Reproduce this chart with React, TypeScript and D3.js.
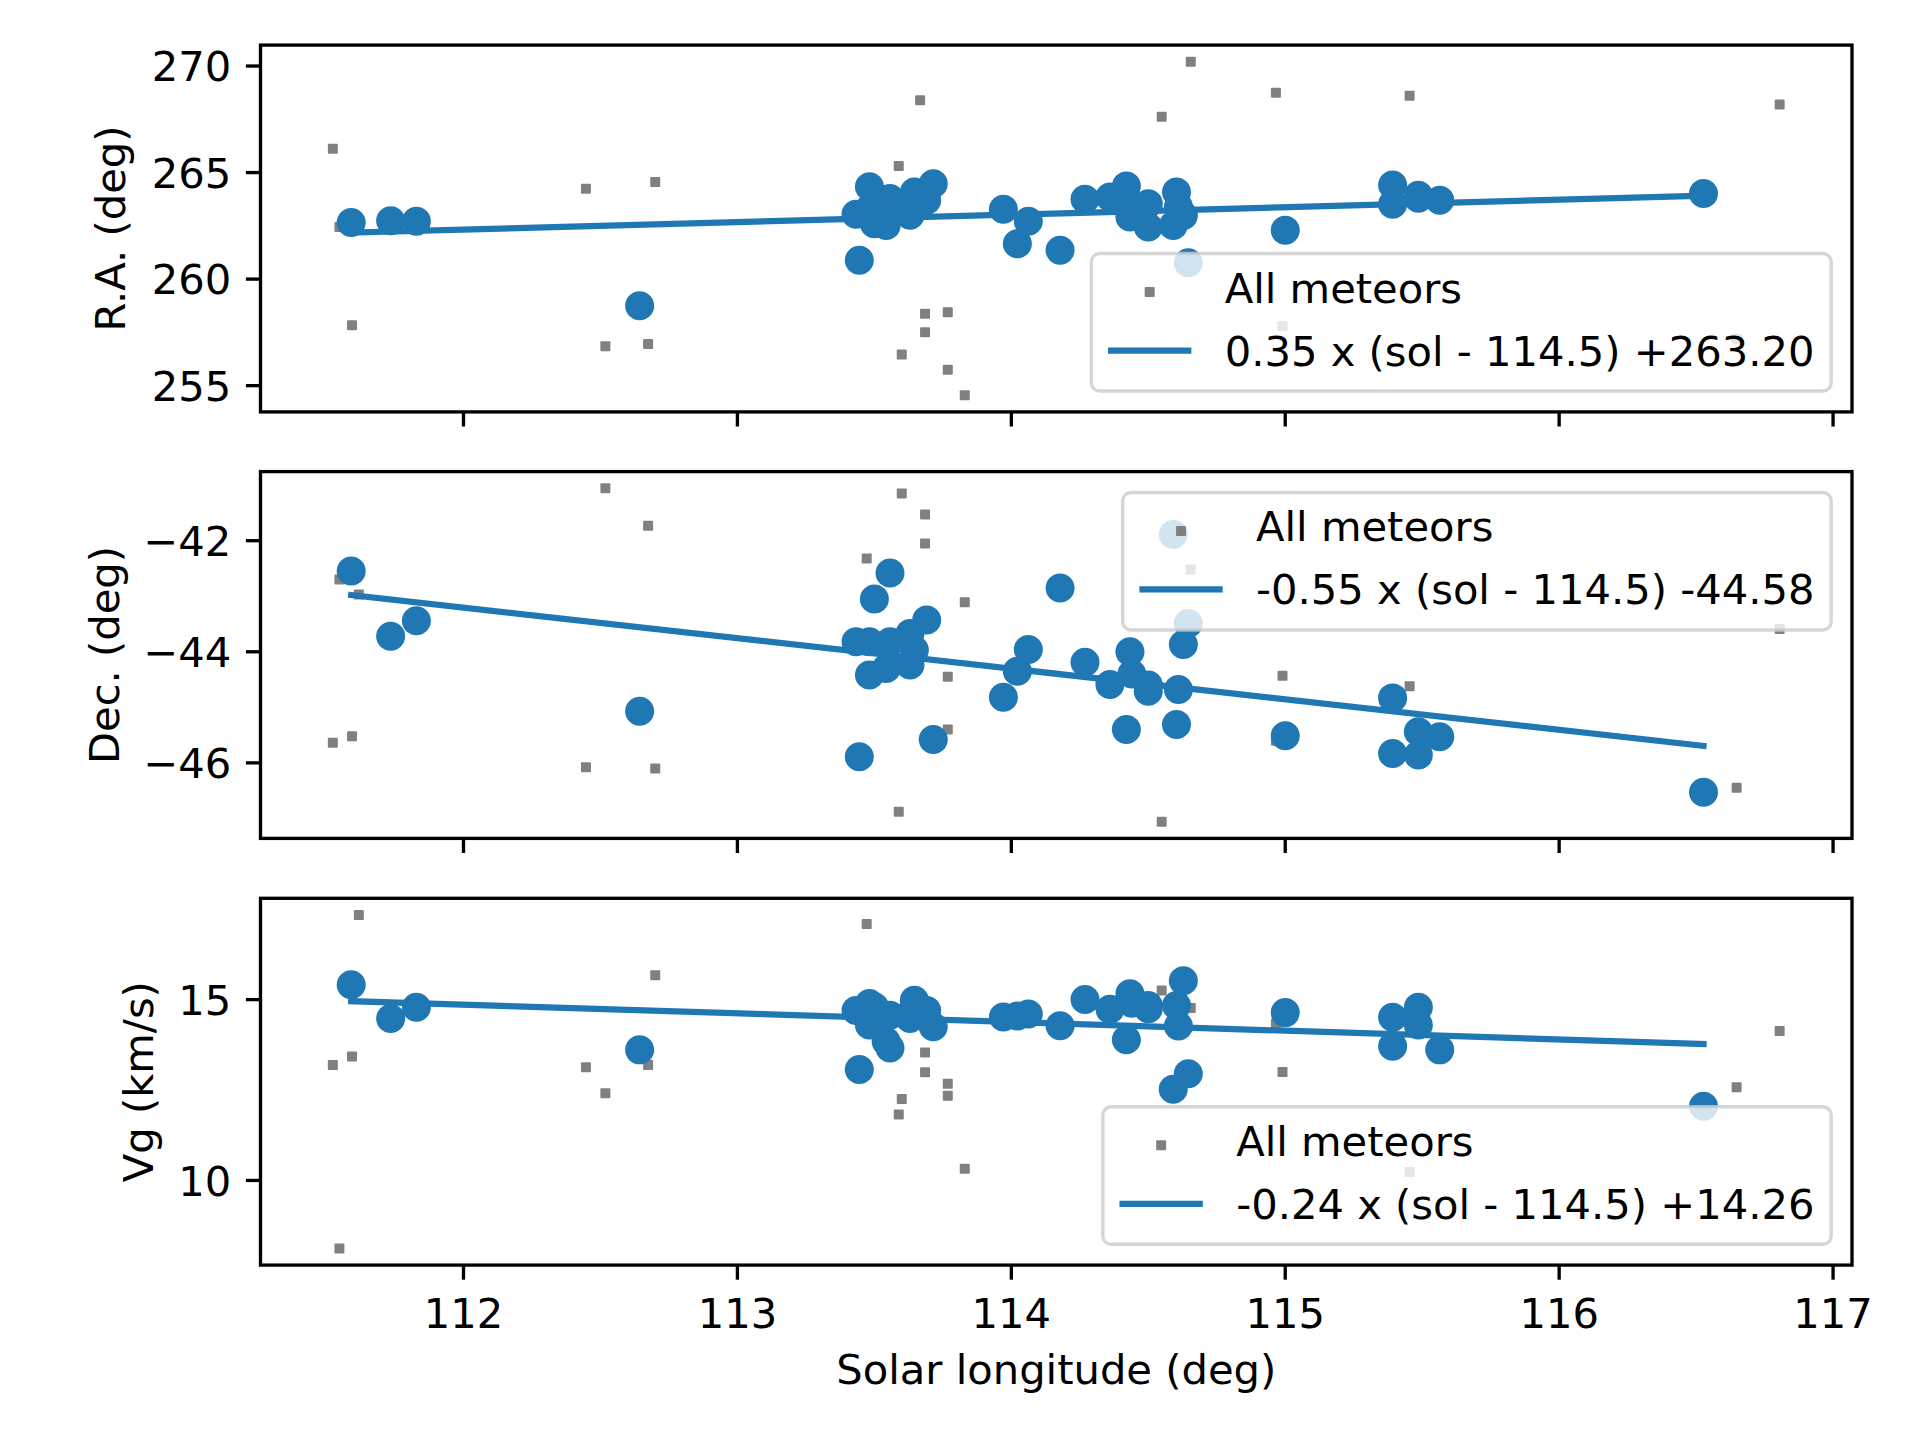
import React, { useMemo } from 'react';
import * as d3 from 'd3';

// ---------------- DATA ----------------
// Shower members (blue circles)
const memberSol = [
  111.59, 111.734, 111.828, 112.643, 113.433, 113.445, 113.482, 113.482, 113.5, 113.543,
  113.557, 113.557, 113.63, 113.63, 113.646, 113.691, 113.715, 113.971, 114.022, 114.062,
  114.178, 114.269, 114.36, 114.42, 114.433, 114.44, 114.5, 114.5, 114.591, 114.603,
  114.61, 114.628, 114.646, 115.0, 115.392, 115.392, 115.486, 115.486, 115.564, 116.527,
];
const memberRA = [
  262.66, 262.74, 262.71, 258.75, 263.04, 260.88, 264.33, 263.3, 262.6, 262.52,
  263.78, 263.3, 263.0, 263.4, 264.09, 263.7, 264.48, 263.28, 261.66, 262.71,
  261.35, 263.75, 263.85, 264.37, 262.92, 263.3, 263.54, 262.45, 262.52, 264.09,
  263.4, 262.99, 260.77, 262.29, 264.42, 263.51, 263.94, 263.8, 263.7, 264.02,
];
const memberDec = [
  -42.545, -43.72, -43.44, -45.07, -43.82, -45.89, -43.82, -44.42, -43.05, -44.3,
  -42.58, -43.82, -44.24, -43.67, -43.97, -43.43, -45.58, -44.82, -44.35, -43.96,
  -42.85, -44.19, -44.59, -45.4, -44.0, -44.4, -44.71, -44.6, -41.89, -45.31,
  -44.68, -43.87, -43.49, -45.51, -44.83, -45.83, -45.44, -45.86, -45.53, -46.53,
];
const memberVg = [
  15.41, 14.48, 14.79, 13.61, 14.7, 13.07, 14.89, 14.3, 14.8, 13.84,
  14.57, 13.66, 14.48, 14.6, 14.98, 14.7, 14.25, 14.52, 14.55, 14.6,
  14.28, 15.0, 14.73, 13.89, 15.16, 14.9, 14.84, 14.75, 12.52, 14.84,
  14.27, 15.52, 12.95, 14.64, 14.51, 13.71, 14.79, 14.3, 13.61, 12.05,
];

// Other meteors (grey squares, "All meteors" also includes the members)
const otherSol = [
  111.523, 111.547, 111.593, 111.618, 112.447, 112.518, 112.674, 112.7, 113.472, 113.589,
  113.6, 113.667, 113.685, 113.685, 113.768, 113.768, 113.83, 114.549, 114.655, 114.966,
  114.99, 115.454, 116.648, 116.805,
];
const otherRA = [
  266.12, 262.45, 257.83, 262.6, 264.24, 256.85, 256.95, 264.56, 263.2, 265.31,
  256.46, 268.4, 258.37, 257.51, 258.45, 255.74, 254.55, 267.62, 270.2, 268.75,
  257.8, 268.6, 257.2, 268.2,
];
const otherDec = [
  -45.64, -42.7, -45.52, -42.97, -46.08, -41.056, -41.73, -46.1, -42.32, -46.88,
  -41.15, -43.9, -41.53, -42.05, -44.45, -45.4, -43.11, -47.06, -42.52, -45.6,
  -44.43, -44.62, -46.45, -43.59,
];
const otherVg = [
  13.19, 8.12, 13.43, 17.34, 13.13, 12.41, 13.19, 15.67, 17.09, 11.82,
  12.25, 14.6, 13.54, 12.99, 12.67, 12.34, 10.32, 15.25, 14.77, 14.34,
  13.0, 10.23, 12.58, 14.13,
];

// Linear fits: slope * (sol - ref) + intercept
const fitSlopes = [0.35, -0.55, -0.24];
const fitRef = 114.5;
const fitIntercepts = [263.2, -44.58, 14.26];
const fitLabels = [
  '0.35 x (sol - 114.5) +263.20',
  '-0.55 x (sol - 114.5) -44.58',
  '-0.24 x (sol - 114.5) +14.26',
];

const xTicks = [112, 113, 114, 115, 116, 117];
const raTicks = [255, 260, 265, 270];
const decTicks = [-46, -44, -42];
const vgTicks = [10, 15];

const yLabels = ['R.A. (deg)', 'Dec. (deg)', 'Vg (km/s)'];
const xLabel = 'Solar longitude (deg)';
const allLabel = 'All meteors';

// ---------------- STYLE / LAYOUT ----------------
const W = 1920;
const H = 1440;
const FS = 41.667;
const FONT = '"DejaVu Sans", "Liberation Sans", sans-serif';
const BLUE = '#1f77b4';
const GREY = '#808080';
const AX_L = 260.5;
const AX_R = 1852;
const PANEL_TOPS = [45.1, 471.6, 898.3];
const PANEL_H = 366.8;
const YLABEL_X = [110, 104, 138];
const LEGEND_LOC = ['lower', 'upper', 'lower'];
const LW_AX = 3.33;
const TICK_LEN = 14.6;
const TICK_PAD = 14.6;
const SQ = 10;

function pad5(vals: number[]): [number, number] {
  const [lo, hi] = d3.extent(vals) as [number, number];
  const m = (hi - lo) * 0.05;
  return [lo - m, hi + m];
}

function measure(text: string): number {
  const c = document.createElement('canvas');
  const ctx = c.getContext('2d');
  if (!ctx) return text.length * FS * 0.6;
  ctx.font = `${FS}px "DejaVu Sans"`;
  return ctx.measureText(text).width;
}

const fmtTick = (v: number) => (v < 0 ? '\u2212' + String(Math.abs(v)) : String(v));

export default function App() {
  const allSol = [...otherSol, ...memberSol];
  const x = d3.scaleLinear().domain(pad5(allSol)).range([AX_L, AX_R]);

  const series = [
    { mem: memberRA, oth: otherRA, ticks: raTicks },
    { mem: memberDec, oth: otherDec, ticks: decTicks },
    { mem: memberVg, oth: otherVg, ticks: vgTicks },
  ];

  const textWidths = useMemo(() => fitLabels.map((t) => measure(t)), []);
  const solMin = d3.min(memberSol) as number;
  const solMax = d3.max(memberSol) as number;

  return (
    <svg
      width={W}
      height={H}
      viewBox={`0 0 ${W} ${H}`}
      style={{ position: 'absolute', left: 0, top: 0, background: '#fff', fontFamily: FONT }}
    >
      <rect x={0} y={0} width={W} height={H} fill="#fff" />
      {series.map((s, i) => {
        const top = PANEL_TOPS[i];
        const bottom = top + PANEL_H;
        const y = d3.scaleLinear().domain(pad5([...s.mem, ...s.oth])).range([bottom, top]);
        const line = d3
          .line<number>()
          .x((d) => x(d))
          .y((d) => y(fitSlopes[i] * (d - fitRef) + fitIntercepts[i]));
        const allVals = [...s.oth, ...s.mem];
        const allX = [...otherSol, ...memberSol];

        // legend geometry
        const bp = 0.4 * FS;
        const hl = 2 * FS;
        const htp = 0.8 * FS;
        const ap = 0.5 * FS;
        const legH = 137.5;
        const legW = bp + hl + htp + textWidths[i] + bp;
        const lx = AX_R - ap - legW;
        const ly = LEGEND_LOC[i] === 'upper' ? top + ap : bottom - ap - legH;

        return (
          <g key={i}>
            {/* grey: all meteors */}
            {allVals.map((v, k) => (
              <rect
                key={'g' + k}
                x={x(allX[k]) - SQ / 2}
                y={y(v) - SQ / 2}
                width={SQ}
                height={SQ}
                rx={1}
                fill={GREY}
              />
            ))}
            {/* blue: members */}
            {s.mem.map((v, k) => (
              <circle key={'b' + k} cx={x(memberSol[k])} cy={y(v)} r={14.5} fill={BLUE} />
            ))}
            {/* fit line */}
            <path
              d={line([solMin, solMax]) || ''}
              stroke={BLUE}
              strokeWidth={6.25}
              strokeLinecap="square"
              fill="none"
            />
            {/* spines */}
            <rect
              x={AX_L}
              y={top}
              width={AX_R - AX_L}
              height={PANEL_H}
              fill="none"
              stroke="#000"
              strokeWidth={LW_AX}
            />
            {/* x ticks */}
            {xTicks.map((t) => (
              <line
                key={'xt' + t}
                x1={x(t)}
                x2={x(t)}
                y1={bottom}
                y2={bottom + TICK_LEN}
                stroke="#000"
                strokeWidth={LW_AX}
              />
            ))}
            {i === 2 &&
              xTicks.map((t) => (
                <text
                  key={'xl' + t}
                  x={x(t)}
                  y={1327.6}
                  fontSize={FS}
                  textAnchor="middle"
                  fill="#000"
                >
                  {fmtTick(t)}
                </text>
              ))}
            {/* y ticks */}
            {s.ticks.map((t) => (
              <g key={'yt' + t}>
                <line
                  x1={AX_L - TICK_LEN}
                  x2={AX_L}
                  y1={y(t)}
                  y2={y(t)}
                  stroke="#000"
                  strokeWidth={LW_AX}
                />
                <text
                  x={AX_L - TICK_LEN - TICK_PAD}
                  y={y(t) + 15.2}
                  fontSize={FS}
                  textAnchor="end"
                  fill="#000"
                >
                  {fmtTick(t)}
                </text>
              </g>
            ))}
            {/* y label */}
            <text
              transform={`translate(${YLABEL_X[i]},${top + PANEL_H / 2}) rotate(-90)`}
              fontSize={FS}
              textAnchor="middle"
              dominantBaseline="central"
              fill="#000"
            >
              {yLabels[i]}
            </text>
            {/* legend */}
            <g>
              <rect
                x={lx}
                y={ly}
                width={legW}
                height={legH}
                rx={8.3}
                ry={8.3}
                fill="#fff"
                fillOpacity={0.8}
                stroke="#cccccc"
                strokeOpacity={0.8}
                strokeWidth={3.4}
              />
              <rect
                x={lx + bp + hl / 2 - SQ / 2}
                y={ly + 38.5 - SQ / 2}
                width={SQ}
                height={SQ}
                rx={1}
                fill={GREY}
              />
              <text x={lx + bp + hl + htp} y={ly + 49} fontSize={FS} fill="#000">
                {allLabel}
              </text>
              <line
                x1={lx + bp}
                x2={lx + bp + hl}
                y1={ly + 97}
                y2={ly + 97}
                stroke={BLUE}
                strokeWidth={6.25}
              />
              <text x={lx + bp + hl + htp} y={ly + 112} fontSize={FS} fill="#000">
                {fitLabels[i]}
              </text>
            </g>
          </g>
        );
      })}
      <text x={(AX_L + AX_R) / 2} y={1384} fontSize={FS} textAnchor="middle" fill="#000">
        {xLabel}
      </text>
    </svg>
  );
}
